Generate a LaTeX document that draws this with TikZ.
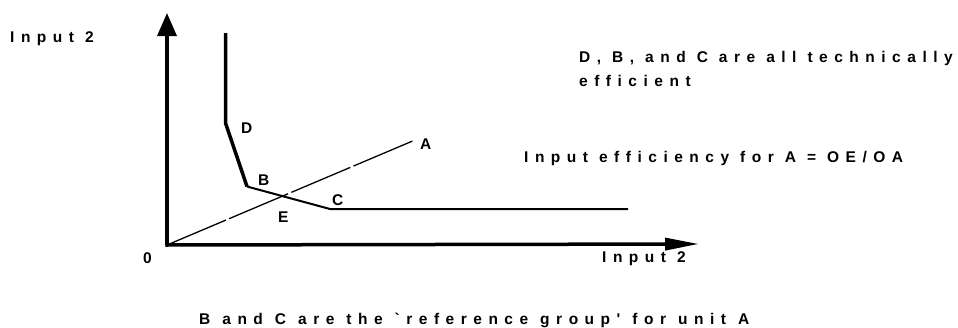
\documentclass[tikz,border=0pt]{standalone}
\usepackage{fontspec}
\setmainfont{Liberation Sans}
\newfontfamily\spaced{Liberation Sans}[LetterSpace=42]
\newcommand\txtfont{\spaced\bfseries\fontsize{15.5}{26}\selectfont\spaceskip=11pt\relax}
\newcommand\widetxtfont{\spaced\bfseries\fontsize{15.5}{26}\selectfont\spaceskip=12pt\relax}
\usetikzlibrary{arrows.meta}
\begin{document}
\begin{tikzpicture}[x=1pt,y=-1pt,
  txt/.style={anchor=base west,inner sep=0pt,font=\txtfont},
  widetxt/.style={anchor=base west,inner sep=0pt,font=\widetxtfont},
  lbl/.style={anchor=base west,inner sep=0pt,font=\bfseries\fontsize{15.5}{17}\selectfont},
  axis/.style={line width=3.5pt},
  thickcurve/.style={line width=3.5pt,line join=miter},
  thincurve/.style={line width=2pt},
  ray/.style={line width=1.3pt,dash pattern=on 64pt off 3.5pt}]
\useasboundingbox (0,0) rectangle (958,327);
% coordinates
\coordinate (O) at (167,245);
\coordinate (Ytip) at (167,13);
\coordinate (Xtip) at (699,244);
\coordinate (Top) at (225.5,33);
\coordinate (Dp) at (225.5,123);
\coordinate (Bp) at (247,186.5);
\coordinate (Cp) at (330,209);
\coordinate (End) at (628,209);
\coordinate (Ap) at (415,140);
% axes
\draw[axis,-{Triangle[length=23pt,width=19pt]}] (O) -- (Ytip);
\draw[axis,-{Triangle[length=34pt,width=12pt]}] ([xshift=-1.75pt]O) -- (Xtip);
% isoquant
\draw[thickcurve] (Top) -- (Dp) -- (Bp);
\draw[thincurve] (Bp) -- (Cp) -- (End);
% ray
\draw[ray] (O) -- (Ap);
% labels
\node[lbl] (lD) at (241,133) {D};
\node[lbl] (lA) at (420,149) {A};
\node[lbl] (lB) at (258,185) {B};
\node[lbl] (lC) at (332,205) {C};
\node[lbl] (lE) at (278,222) {E};
\node[lbl] (l0) at (143,263) {0};
% texts
\node[txt] (yl) at (10,42) {Input 2};
\node[txt] (xl) at (602,262) {Input 2};
\node[txt] (t1) at (579,62) {D, B, and C are all technically};
\node[txt] (t2) at (579,86) {efficient};
\node[txt] (t3) at (524,162) {Input efficiency for A = OE/OA};
\node[widetxt] (t4) at (199,324) {B and C are the `reference group' for unit A};
\end{tikzpicture}
\end{document}
